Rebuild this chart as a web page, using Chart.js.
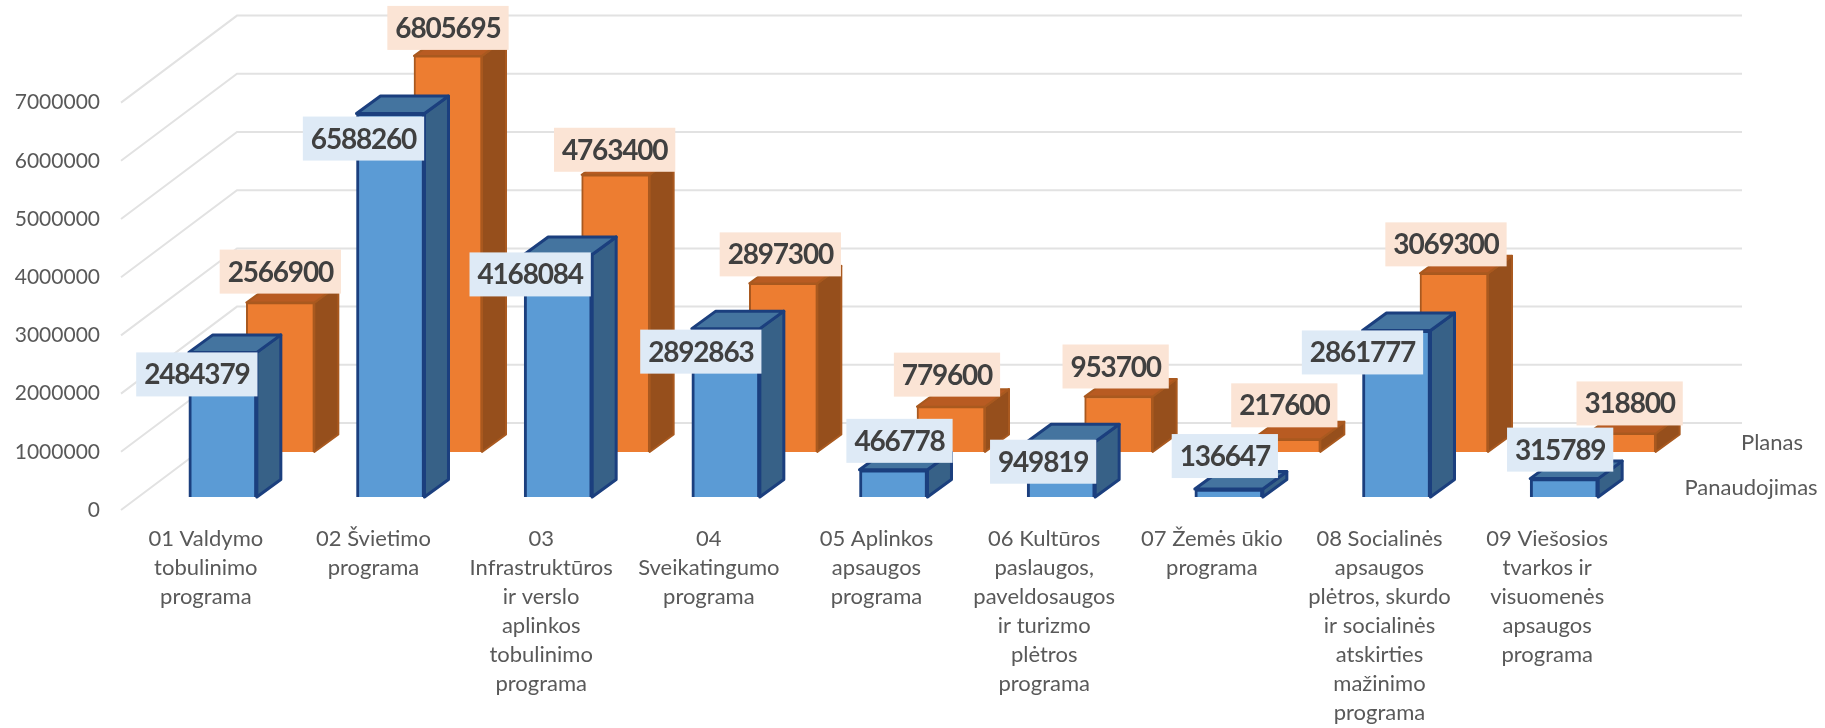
<!DOCTYPE html>
<html>
<head>
<meta charset="utf-8">
<title>Programos</title>
<script src="https://cdn.jsdelivr.net/npm/chart.js@4"></script>
<style>
  html, body { margin: 0; background: #fff; }
  canvas { display: block; }
</style>
</head>
<body>
<canvas id="chart" width="1825" height="728"></canvas>
<script>
const categories = [
  ['01 Valdymo', 'tobulinimo', 'programa'],
  ['02 Švietimo', 'programa'],
  ['03', 'Infrastruktūros', 'ir verslo', 'aplinkos', 'tobulinimo', 'programa'],
  ['04', 'Sveikatingumo', 'programa'],
  ['05 Aplinkos', 'apsaugos', 'programa'],
  ['06 Kultūros', 'paslaugos,', 'paveldosaugos', 'ir turizmo', 'plėtros', 'programa'],
  ['07 Žemės ūkio', 'programa'],
  ['08 Socialinės', 'apsaugos', 'plėtros, skurdo', 'ir socialinės', 'atskirties', 'mažinimo', 'programa'],
  ['09 Viešosios', 'tvarkos ir', 'visuomenės', 'apsaugos', 'programa']
];
const panaudojimas = [2484379, 6588260, 4168084, 2892863, 466778, 949819, 136647, 2861777, 315789];
const planas = [2566900, 6805695, 4763400, 2897300, 779600, 953700, 217600, 3069300, 318800];
const seriesNames = ['Panaudojimas', 'Planas'];
const yTicks = [0, 1000000, 2000000, 3000000, 4000000, 5000000, 6000000, 7000000];

// data labels were dragged around by hand in the original, so they get their own nudges
const panaudojimasNudge = [[-26, 22], [-27, 25], [-28, 20], [-25, 23], [6, -29], [-18, 20], [-4, -33], [-34, 22], [-4, -29]];
const planasNudge = [[0, -31], [0, -28], [-1, -25], [-3, -29], [-4, -32], [-3, -30], [-2, -34], [-8, -29], [8, -30]];

const pxPerMillion = 58.2;
const bandWidth = 167.7;
const depthX = 24, depthY = -17.5;
const fontName = 'Lato, sans-serif';

// 3D look: the two series sit on their own hidden scales, shifted on the floor
function yRange(gapPx) {
  const min = -gapPx / pxPerMillion * 1000000;
  return { min: min, max: min + 7000000 };
}
function xRange(shiftPx) {
  const min = -0.5 - shiftPx / bandWidth;
  return { min: min, max: min + categories.length };
}
function toPoints(values) {
  return values.map((v, i) => ({ x: i, y: v }));
}

const faces = {
  front: { top: '#44749F', side: '#376187', line: '#1B3F7E', width: 3, box: '#DEEAF6', nudge: panaudojimasNudge },
  back: { top: '#B85B22', side: '#964F1C', line: '#A9591F', width: 2, box: '#FBE4D5', nudge: planasNudge }
};

const wallsPlugin = {
  id: 'walls',
  beforeDatasetsDraw(chart) {
    const ctx = chart.ctx;
    const y = chart.scales.y;
    ctx.save();
    ctx.strokeStyle = '#E2E2E2';
    ctx.lineWidth = 2;
    y.ticks.forEach((t, i) => {
      const py = y.getPixelForTick(i);
      ctx.beginPath();
      ctx.moveTo(121, py);
      ctx.lineTo(237, py - 87);
      ctx.lineTo(1742, py - 87);
      ctx.stroke();
    });
    ctx.restore();
  },
  afterDatasetDraw(chart, args) {
    const ctx = chart.ctx;
    const f = chart.data.datasets[args.index].faces;
    ctx.save();
    ctx.lineWidth = f.width;
    ctx.lineJoin = 'round';
    ctx.strokeStyle = f.line;
    args.meta.data.forEach(bar => {
      const l = bar.x - bar.width / 2, r = bar.x + bar.width / 2;
      ctx.fillStyle = f.side;
      ctx.beginPath();
      ctx.moveTo(r, bar.y);
      ctx.lineTo(r + depthX, bar.y + depthY);
      ctx.lineTo(r + depthX, bar.base + depthY);
      ctx.lineTo(r, bar.base);
      ctx.closePath();
      ctx.fill();
      ctx.stroke();
      ctx.fillStyle = f.top;
      ctx.beginPath();
      ctx.moveTo(l, bar.y);
      ctx.lineTo(l + depthX, bar.y + depthY);
      ctx.lineTo(r + depthX, bar.y + depthY);
      ctx.lineTo(r, bar.y);
      ctx.closePath();
      ctx.fill();
      ctx.stroke();
    });
    ctx.restore();
  },
  afterDatasetsDraw(chart) {
    const ctx = chart.ctx;
    ctx.save();
    ctx.textAlign = 'center';
    ctx.textBaseline = 'middle';
    // back series labels first, the blue boxes lie over them
    [1, 0].forEach(di => {
      const ds = chart.data.datasets[di];
      chart.getDatasetMeta(di).data.forEach((bar, i) => {
        const txt = String(ds.data[i].y);
        const cx = bar.x + ds.faces.nudge[i][0];
        const cy = bar.y + ds.faces.nudge[i][1];
        ctx.font = 'bold 28px ' + fontName;
        ctx.letterSpacing = '-1.2px';
        const w = ctx.measureText(txt).width + 16;
        ctx.fillStyle = ds.faces.box;
        ctx.fillRect(cx - w / 2, cy - 22, w, 44);
        ctx.fillStyle = '#404040';
        ctx.fillText(txt, cx, cy + 1);
      });
    });
    ctx.letterSpacing = '0px';
    // names of the depth axis
    ctx.font = '22px ' + fontName;
    ctx.fillStyle = '#595959';
    ctx.fillText(seriesNames[1], 1772, 443);
    ctx.fillText(seriesNames[0], 1751, 488);
    ctx.restore();
  }
};

new Chart(document.getElementById('chart'), {
  type: 'bar',
  data: {
    labels: categories,
    datasets: [
      {
        label: seriesNames[0], data: toPoints(panaudojimas), xAxisID: 'xFront', yAxisID: 'yFront',
        backgroundColor: '#5B9BD5', borderColor: faces.front.line, borderWidth: 3, order: 1, clip: false, faces: faces.front
      },
      {
        label: seriesNames[1], data: toPoints(planas), xAxisID: 'xBack', yAxisID: 'yBack',
        backgroundColor: '#ED7D31', borderColor: faces.back.line, borderWidth: 2, order: 2, clip: false, faces: faces.back
      }
    ]
  },
  options: {
    responsive: false,
    animation: false,
    devicePixelRatio: 1,
    grouped: false,
    barThickness: 68,
    layout: { autoPadding: false, padding: { top: 102.6, right: 194, left: 0, bottom: 0 } },
    plugins: { legend: { display: false }, tooltip: { enabled: false } },
    scales: {
      x: {
        offset: true,
        grid: { display: false, drawTicks: false },
        border: { display: false },
        ticks: {
          autoSkip: false, maxRotation: 0, minRotation: 0, padding: 14, color: '#595959',
          font: { family: fontName, size: 22, lineHeight: 1.32 }
        },
        afterFit(s) { s.height = 218; }
      },
      y: {
        min: 0,
        max: 7000000,
        grid: { display: false, drawTicks: false },
        border: { display: false },
        afterBuildTicks(s) { s.ticks = yTicks.map(v => ({ value: v })); },
        ticks: {
          padding: 22, color: '#595959',
          font: { family: fontName, size: 21 },
          callback: v => String(v)
        },
        afterFit(s) { s.width = 122; }
      },
      xFront: { type: 'linear', axis: 'x', display: false, offset: false, bounds: 'data', ...xRange(17) },
      xBack: { type: 'linear', axis: 'x', display: false, offset: false, bounds: 'data', ...xRange(74.5) },
      yFront: { type: 'linear', axis: 'y', display: false, bounds: 'data', ...yRange(13) },
      yBack: { type: 'linear', axis: 'y', display: false, bounds: 'data', ...yRange(58) }
    }
  },
  plugins: [wallsPlugin]
});
</script>
</body>
</html>
